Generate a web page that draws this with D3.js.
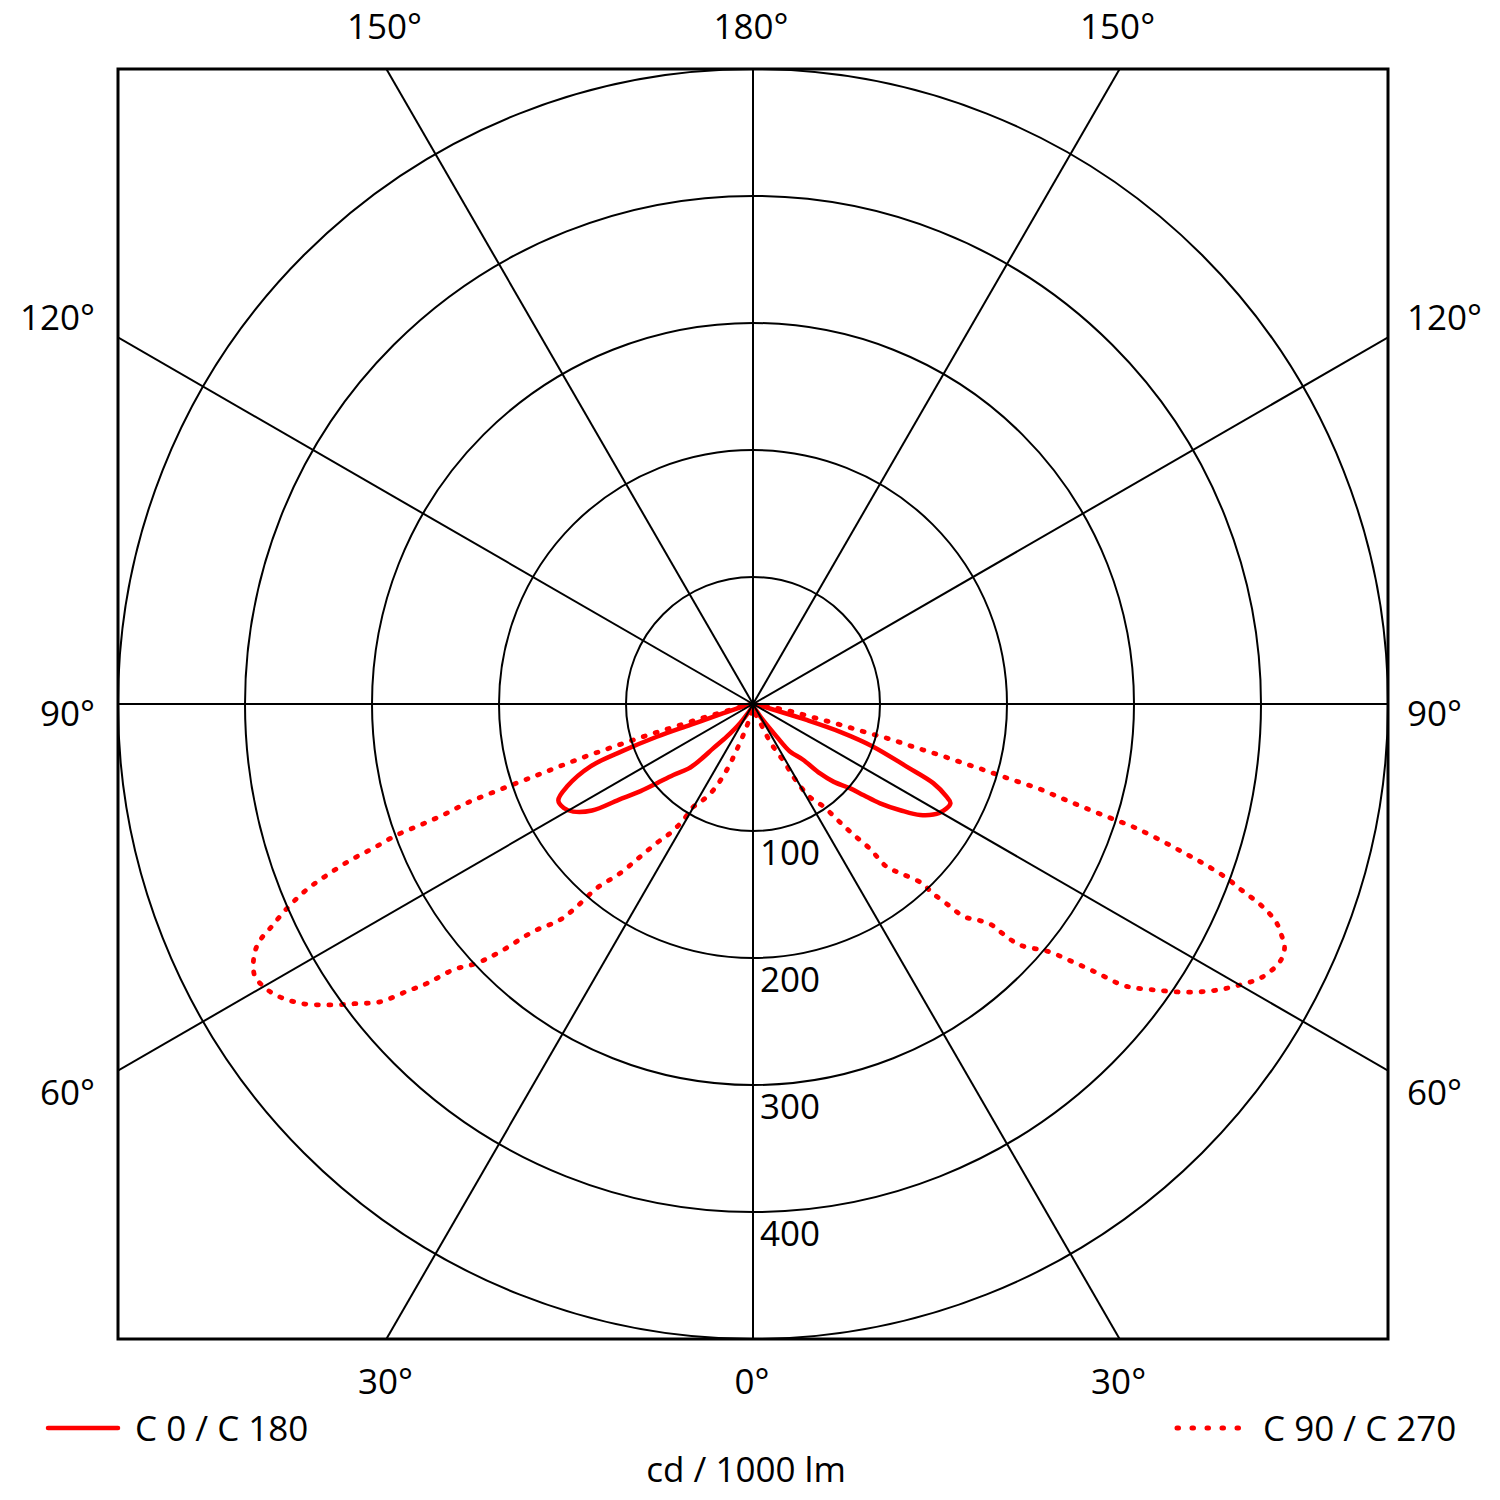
<!DOCTYPE html>
<html><head><meta charset="utf-8">
<script src="https://cdn.jsdelivr.net/npm/d3@7"></script>
<style>
body{margin:0;background:#fff}
text{font-family:"Open Sans","Noto Sans",sans-serif;font-size:35px;fill:#000}
</style>
</head><body>
<svg id="chart" width="1500" height="1500"></svg>
<script>
// ---- data (gamma angle in degrees measured from nadir, intensity in cd/1000 lm) ----
const ringValues = [100, 200, 300, 400, 500];
const ringLabels = ["100", "200", "300", "400"];
const spokeAngles = [0, 30, 60, 90, 120, 150, 180, -30, -60, -90, -120, -150];
const topAngles = [-30, 0, 30];
const topLabels = ["150°", "180°", "150°"];
const bottomAngles = [-30, 0, 30];
const bottomLabels = ["30°", "0°", "30°"];
const sideAngles = [120, 90, 60];
const sideLabels = ["120°", "90°", "60°"];
const legendLabels = ["C 0 / C 180", "C 90 / C 270"];
const unitLabel = "cd / 1000 lm";

// C180 (left half, solid)
const c180Gamma  = [0, 10, 20, 28, 34, 38.8, 41.9, 43.4, 45, 48.3, 50.5, 52.2, 54.5, 56.5, 59.1, 61.2, 63.7, 66.1, 69, 70.2, 71.2, 71.6, 72.6, 76, 80, 85, 90];
const c180Values = [2, 3, 4, 7, 18, 33, 47, 61, 72, 84, 98, 112, 130, 152, 165, 170, 171, 160, 137, 109, 80, 52, 25, 8, 4, 2, 0];
// C0 (right half, solid)
const c0Gamma  = [0, 10, 20, 28, 31, 36, 37.8, 41.9, 44, 46, 49, 50.5, 52, 54.2, 56.4, 59.7, 63.3, 64.4, 66.3, 67.8, 70.5, 72.3, 73.4, 74.5, 77, 80, 85, 90];
const c0Values = [2, 3, 4, 7, 13, 32, 47, 59, 76, 88, 101, 113, 127, 143, 158, 170, 174, 169, 155, 131, 100, 72, 44, 17, 6, 3, 1, 0];
// C270 (left half, dotted)
const c270Gamma  = [0, 5, 10, 13, 15.5, 19.5, 21.7, 24.8, 28, 30.2, 31, 32.7, 34.7, 36.5, 38.2, 40.3, 41, 41.8, 44, 45.6, 46.8, 48.4, 49.4, 50.3, 51.4, 52.9, 54.6, 56.5, 58.6, 60, 61.3, 62.4, 63.7, 64.5, 65.1, 66.3, 67.4, 68.1, 68.8, 69.2, 69.8, 70, 70.3, 70.9, 71.2, 71.5, 71.8, 72.2, 72.6, 72.9, 73.3, 73.6, 74, 74.7, 75.4, 80, 85, 90];
const c270Values = [3, 4, 6, 10, 18, 38, 56, 75, 87, 94, 107, 121, 133, 150, 170, 190, 211, 228, 249, 279, 298, 315, 338, 354, 376, 391, 409, 427, 440, 445, 447, 444, 437, 429, 419, 401, 381, 362, 340, 320, 299, 279, 259, 239, 219, 196, 177, 157, 137, 118, 98, 79, 57, 38, 19, 5, 2, 0];
// C90 (right half, dotted)
const c90Gamma  = [0, 10, 15, 21.2, 24.6, 28.4, 29.3, 31.4, 34.5, 36.1, 37.4, 38.9, 39.4, 41.1, 43.3, 43.5, 44.1, 44.8, 46.2, 47.2, 47.4, 47.9, 50, 51.1, 52, 52.7, 53.4, 54.7, 56.3, 58.1, 59.8, 61.8, 64.1, 65.5, 66.4, 67.3, 67.9, 68.5, 68.9, 69.3, 69.8, 70.5, 71, 71.6, 72.1, 72.3, 72.6, 73, 73.5, 73.7, 74, 74.3, 74.7, 75, 75.6, 75.9, 76.6, 77.3, 78.9, 81, 85, 90];
const c90Values = [3, 6, 9, 16, 34, 53, 69, 86, 98, 113, 128, 146, 166, 177, 194, 205, 219, 236, 246, 256, 267, 283, 303, 323, 344, 365, 375, 390, 409, 427, 441, 455, 462, 460, 454, 447, 439, 428, 418, 408, 398, 376, 357, 335, 314, 296, 275, 255, 234, 213, 193, 173, 152, 132, 112, 92, 71, 51, 31, 12, 3, 0];

// ---- layout ----
const svg = d3.select("#chart");
const cx = 753, cy = 704;
const R = 635;
const r = d3.scaleLinear().domain([0, 500]).range([0, R]);
const rad = d => d * Math.PI / 180;
const RED = "#ff0000";

svg.append("defs").append("clipPath").attr("id", "box")
  .append("rect").attr("x", cx - R).attr("y", cy - R).attr("width", 2 * R).attr("height", 2 * R);

const g = svg.append("g").attr("transform", `translate(${cx},${cy})`);

// ---- curves ----
function seriesPoints(lg, lv, rg, rv) {
  const pts = [];
  for (let i = lg.length - 1; i >= 0; i--) pts.push([Math.PI + rad(lg[i]), r(lv[i])]);
  for (let i = 1; i < rg.length; i++) pts.push([Math.PI - rad(rg[i]), r(rv[i])]);
  return pts;
}
const radial = d3.lineRadial().angle(d => d[0]).radius(d => d[1]).curve(d3.curveCatmullRom.alpha(0.5));

g.append("path")
  .attr("d", radial(seriesPoints(c270Gamma, c270Values, c90Gamma, c90Values)))
  .attr("fill", "none").attr("stroke", RED).attr("stroke-width", 4.8)
  .attr("stroke-linecap", "round").attr("stroke-dasharray", "2 10.5");

g.append("path")
  .attr("d", radial(seriesPoints(c180Gamma, c180Values, c0Gamma, c0Values)))
  .attr("fill", "none").attr("stroke", RED).attr("stroke-width", 4.5)
  .attr("stroke-linejoin", "round");

// ---- grid ----
const grid = svg.append("g").attr("clip-path", "url(#box)").append("g").attr("transform", `translate(${cx},${cy})`);
grid.selectAll("circle.ring").data(ringValues).join("circle")
  .attr("r", d => r(d)).attr("fill", "none").attr("stroke", "#000").attr("stroke-width", 2);
grid.selectAll("line.spoke").data(spokeAngles).join("line")
  .attr("x1", 0).attr("y1", 0)
  .attr("x2", d => Math.sin(rad(d)) * r(1000))
  .attr("y2", d => Math.cos(rad(d)) * r(1000))
  .attr("stroke", "#000").attr("stroke-width", 2);

svg.append("rect").attr("x", cx - R).attr("y", cy - R).attr("width", 2 * R).attr("height", 2 * R)
  .attr("fill", "none").attr("stroke", "#000").attr("stroke-width", 3);

// ring value labels
g.selectAll("text.rv").data(ringLabels).join("text")
  .attr("x", 7).attr("y", (d, i) => r(ringValues[i]) + 34).text(d => d);

// angle labels
g.selectAll("text.top").data(topLabels).join("text")
  .attr("text-anchor", "middle")
  .attr("x", (d, i) => R * Math.tan(rad(topAngles[i])) - 2)
  .attr("y", -R - 30).text(d => d);
g.selectAll("text.bottom").data(bottomLabels).join("text")
  .attr("text-anchor", "middle")
  .attr("x", (d, i) => R * Math.tan(rad(bottomAngles[i])) - 1)
  .attr("y", R + 55).text(d => d);
const sideY = a => a === 90 ? 22 : (a > 90 ? -R * Math.tan(rad(a - 90)) - 7 : R * Math.tan(rad(90 - a)) + 34);
g.selectAll("text.left").data(sideLabels).join("text")
  .attr("text-anchor", "end")
  .attr("x", -R - 23)
  .attr("y", (d, i) => sideY(sideAngles[i])).text(d => d);
g.selectAll("text.right").data(sideLabels).join("text")
  .attr("text-anchor", "start")
  .attr("x", R + 19)
  .attr("y", (d, i) => sideY(sideAngles[i])).text(d => d);

// ---- legend ----
const ly = cy + R + 89;
svg.append("line").attr("x1", 48).attr("x2", 118).attr("y1", ly).attr("y2", ly)
  .attr("stroke", RED).attr("stroke-width", 4.5).attr("stroke-linecap", "round");
svg.append("text").attr("x", 135).attr("y", ly + 13).text(legendLabels[0]);
svg.append("line").attr("x1", 1177).attr("x2", 1240).attr("y1", ly).attr("y2", ly)
  .attr("stroke", RED).attr("stroke-width", 5).attr("stroke-linecap", "round")
  .attr("stroke-dasharray", "1.5 13.5");
svg.append("text").attr("x", 1263).attr("y", ly + 13).text(legendLabels[1]);
svg.append("text").attr("text-anchor", "middle").attr("x", 746).attr("y", ly + 54).text(unitLabel);
</script>
</body></html>
